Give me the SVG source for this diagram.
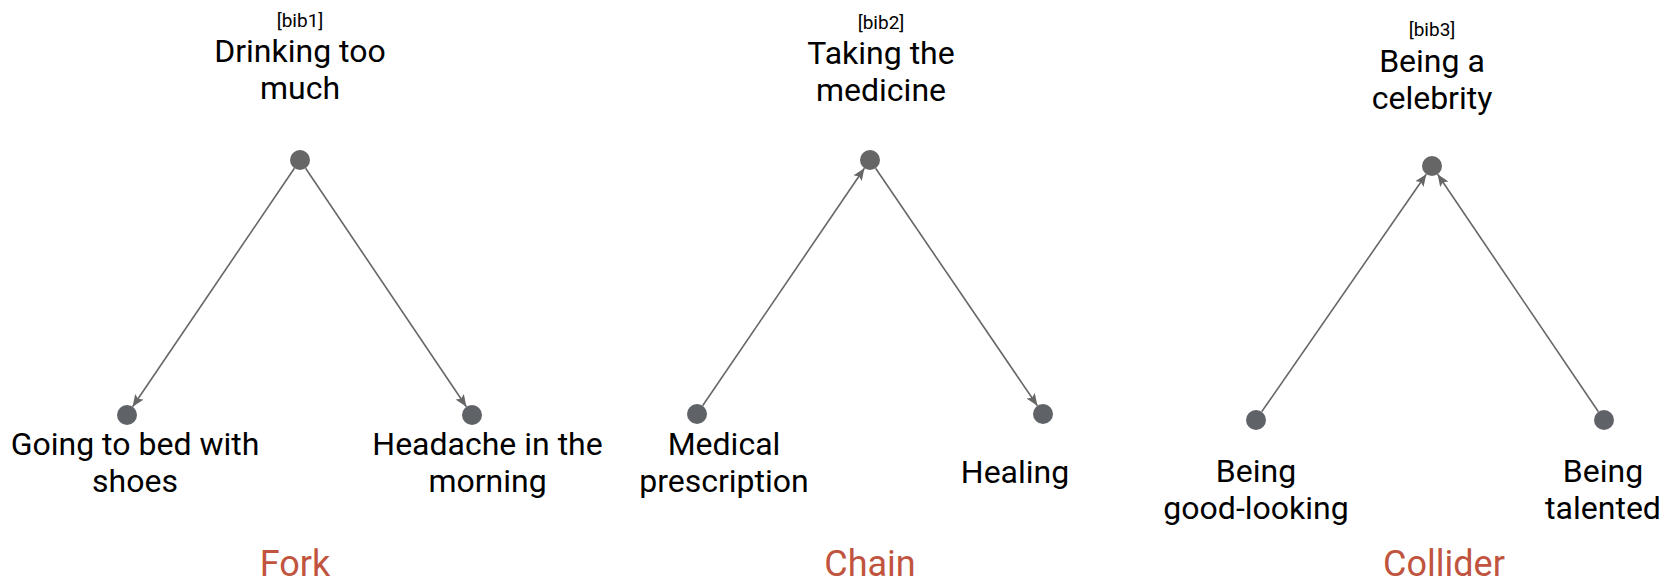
<svg xmlns="http://www.w3.org/2000/svg" width="1665" height="582" viewBox="0 0 1665 582">
<style>
.lbl{font-family:Roboto,"Liberation Sans",sans-serif;font-size:32px;fill:#000;text-anchor:middle}
.bib{font-family:Roboto,"Liberation Sans",sans-serif;font-size:19px;fill:#000;text-anchor:middle}
.ttl{font-family:Roboto,"Liberation Sans",sans-serif;font-size:36px;fill:#c0543e;text-anchor:middle}
.top{fill:#666666}
.bot{fill:#5f6368}
.edge{stroke:#666666;stroke-width:1.6;fill:none;marker-end:url(#ah)}
</style>
<defs>
<marker id="ah" markerUnits="userSpaceOnUse" markerWidth="13" markerHeight="11" refX="12" refY="5" orient="auto">
<path d="M0,0 L12,5 L0,10 L2.5,5 z" fill="#666666"/>
</marker>
</defs>
<rect width="1665" height="582" fill="#ffffff"/>
<g id="connectors">
<line class="edge" x1="294.4" y1="168.3" x2="132.6" y2="406.7"/>
<line class="edge" x1="305.6" y1="168.3" x2="466.4" y2="406.7"/>
<line class="edge" x1="702.6" y1="405.7" x2="864.4" y2="168.3"/>
<line class="edge" x1="875.6" y1="168.3" x2="1037.4" y2="405.7"/>
<line class="edge" x1="1261.7" y1="411.8" x2="1426.3" y2="174.2"/>
<line class="edge" x1="1598.4" y1="411.7" x2="1437.6" y2="174.3"/>
</g>
<g id="fork-top">
<circle class="top" cx="300" cy="160" r="10"/>
<text class="bib" x="300" y="27">[bib1]</text>
<text class="lbl" x="300" y="62">Drinking too</text>
<text class="lbl" x="300" y="99">much</text>
</g>
<g id="fork-left">
<circle class="bot" cx="127" cy="415" r="10"/>
<text class="lbl" x="135" y="455">Going to bed with</text>
<text class="lbl" x="135" y="492">shoes</text>
</g>
<g id="fork-right">
<circle class="bot" cx="472" cy="415" r="10"/>
<text class="lbl" x="487.5" y="455">Headache in the</text>
<text class="lbl" x="487.5" y="492">morning</text>
</g>
<g id="fork-title"><text class="ttl" x="295" y="576">Fork</text></g>
<g id="chain-top">
<circle class="top" cx="870" cy="160" r="10"/>
<text class="bib" x="881" y="29">[bib2]</text>
<text class="lbl" x="881" y="64">Taking the</text>
<text class="lbl" x="881" y="101">medicine</text>
</g>
<g id="chain-left">
<circle class="bot" cx="697" cy="414" r="10"/>
<text class="lbl" x="724" y="455">Medical</text>
<text class="lbl" x="724" y="492">prescription</text>
</g>
<g id="chain-right">
<circle class="bot" cx="1043" cy="414" r="10"/>
<text class="lbl" x="1015" y="483">Healing</text>
</g>
<g id="chain-title"><text class="ttl" x="870" y="576">Chain</text></g>
<g id="collider-top">
<circle class="top" cx="1432" cy="166" r="10"/>
<text class="bib" x="1432" y="36">[bib3]</text>
<text class="lbl" x="1432" y="72">Being a</text>
<text class="lbl" x="1432" y="109">celebrity</text>
</g>
<g id="collider-left">
<circle class="bot" cx="1256" cy="420" r="10"/>
<text class="lbl" x="1256" y="482">Being</text>
<text class="lbl" x="1256" y="519">good-looking</text>
</g>
<g id="collider-right">
<circle class="bot" cx="1604" cy="420" r="10"/>
<text class="lbl" x="1603" y="482">Being</text>
<text class="lbl" x="1603" y="519">talented</text>
</g>
<g id="collider-title"><text class="ttl" x="1444" y="576">Collider</text></g>
</svg>
